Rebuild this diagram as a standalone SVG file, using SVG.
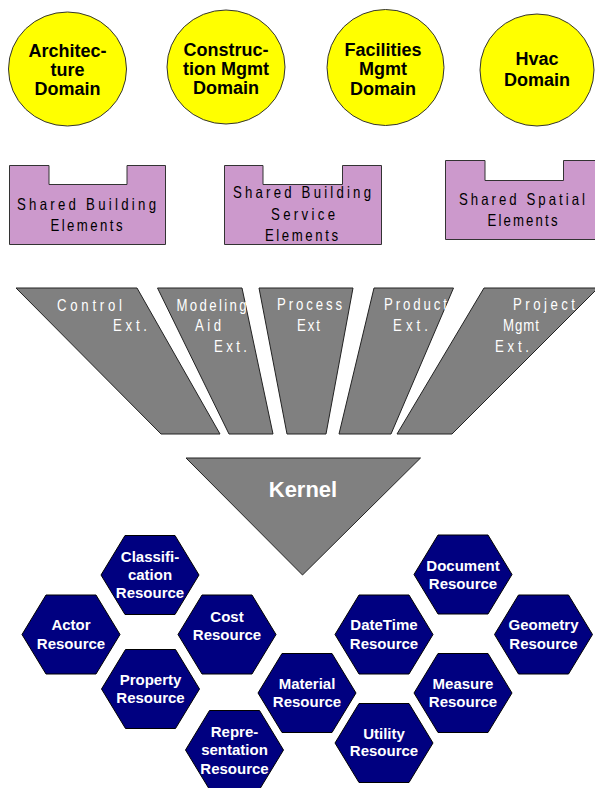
<svg xmlns="http://www.w3.org/2000/svg" width="595" height="788" viewBox="0 0 595 788">
<style>
.dom{fill:#FFFF00;stroke:#333;stroke-width:1}
.dt{font-family:"Liberation Sans",Arial,sans-serif;font-weight:bold;font-size:18px;fill:#000;text-anchor:middle}
.box{fill:#CC99CC;stroke:#333;stroke-width:1}
.bt{font-family:"Liberation Sans",Arial,sans-serif;font-size:16.5px;fill:#000;text-anchor:middle}
.ext{fill:#808080;stroke:#222;stroke-width:1}
.et{font-family:"Liberation Sans",Arial,sans-serif;font-size:16.5px;fill:#fff}
.hex{fill:#000080;stroke:#000;stroke-width:1}
.ht{font-family:"Liberation Sans",Arial,sans-serif;font-weight:bold;font-size:15px;fill:#fff;text-anchor:middle}
.kt{font-family:"Liberation Sans",Arial,sans-serif;font-weight:bold;font-size:22px;fill:#fff;text-anchor:middle}
</style>
<defs>
<polygon id="hx" points="-49,0 -25,-39.5 25,-39.5 49,0 25,39.5 -25,39.5"/>
</defs>
<rect width="595" height="788" fill="#fff"/>
<g id="connectors"/>
<g id="architecture-domain">
<ellipse class="dom" cx="67.5" cy="69" rx="59" ry="57"/>
<text class="dt" x="67.5" y="57">Architec-</text>
<text class="dt" x="67.5" y="76">ture</text>
<text class="dt" x="67.5" y="95">Domain</text>
</g>
<g id="construction-mgmt-domain">
<ellipse class="dom" cx="226" cy="67" rx="59" ry="57"/>
<text class="dt" x="226" y="56">Construc-</text>
<text class="dt" x="226" y="75">tion Mgmt</text>
<text class="dt" x="226" y="94">Domain</text>
</g>
<g id="facilities-mgmt-domain">
<ellipse class="dom" cx="385.5" cy="67.5" rx="58.5" ry="58"/>
<text class="dt" x="383" y="56">Facilities</text>
<text class="dt" x="383" y="75">Mgmt</text>
<text class="dt" x="383" y="95">Domain</text>
</g>
<g id="hvac-domain">
<ellipse class="dom" cx="537" cy="70" rx="57" ry="56"/>
<text class="dt" x="537" y="65">Hvac</text>
<text class="dt" x="537" y="86">Domain</text>
</g>
<g id="shared-building-elements">
<polygon class="box" points="9.5,165.5 49,165.5 49,184.5 127,184.5 127,165.5 165.5,165.5 165.5,244.5 9.5,244.5"/>
<g transform="scale(0.8,1)">
<text class="bt" x="108.125" y="210" textLength="173.75" lengthAdjust="spacing">Shared Building</text>
<text class="bt" x="108.125" y="231" textLength="90" lengthAdjust="spacing">Elements</text>
</g>
</g>
<g id="shared-building-service-elements">
<polygon class="box" points="224.5,165.5 263,165.5 263,184.5 342.5,184.5 342.5,165.5 381.5,165.5 381.5,244.5 224.5,244.5"/>
<g transform="scale(0.8,1)">
<text class="bt" x="377.5" y="198" textLength="172.5" lengthAdjust="spacing">Shared Building</text>
<text class="bt" x="378.75" y="220" textLength="80" lengthAdjust="spacing">Service</text>
<text class="bt" x="376.875" y="241.5" textLength="91.25" lengthAdjust="spacing">Elements</text>
</g>
</g>
<g id="shared-spatial-elements">
<polygon class="box" points="445.5,160.5 485,160.5 485,180.5 563.5,180.5 563.5,160.5 596,160.5 596,239.5 445.5,239.5"/>
<g transform="scale(0.8,1)">
<text class="bt" x="652.5" y="205" textLength="157.5" lengthAdjust="spacing">Shared Spatial</text>
<text class="bt" x="653.125" y="226" textLength="87.5" lengthAdjust="spacing">Elements</text>
</g>
</g>
<g id="control-ext">
<polygon class="ext" points="16,288 137,288 220,434 161,434"/>
<g transform="scale(0.8,1)">
<text class="et" x="71.25" y="311" textLength="81.25" lengthAdjust="spacing">Control</text>
<text class="et" x="141.25" y="331" textLength="42.5" lengthAdjust="spacing">Ext.</text>
</g>
</g>
<g id="modeling-aid-ext">
<polygon class="ext" points="157.5,288 242,288 273,434 229,434"/>
<g transform="scale(0.8,1)">
<text class="et" x="220.625" y="311" textLength="87.5" lengthAdjust="spacing">Modeling</text>
<text class="et" x="243.75" y="331" textLength="32.5" lengthAdjust="spacing">Aid</text>
<text class="et" x="267.5" y="352" textLength="41.25" lengthAdjust="spacing">Ext.</text>
</g>
</g>
<g id="process-ext">
<polygon class="ext" points="259,288 353,288 326,434 287,434"/>
<g transform="scale(0.8,1)">
<text class="et" x="346.25" y="310" textLength="81.25" lengthAdjust="spacing">Process</text>
<text class="et" x="371.25" y="331" textLength="28.75" lengthAdjust="spacing">Ext</text>
</g>
</g>
<g id="product-ext">
<polygon class="ext" points="374,288 453.5,288 391,434 339,434"/>
<g transform="scale(0.8,1)">
<text class="et" x="480" y="310" textLength="78.75" lengthAdjust="spacing">Product</text>
<text class="et" x="491.25" y="331" textLength="43.75" lengthAdjust="spacing">Ext.</text>
</g>
</g>
<g id="project-mgmt-ext">
<polygon class="ext" points="484,288 598,288 452,434 397,434"/>
<g transform="scale(0.8,1)">
<text class="et" x="641.25" y="310" textLength="77.5" lengthAdjust="spacing">Project</text>
<text class="et" x="628.75" y="331" textLength="45" lengthAdjust="spacing">Mgmt</text>
<text class="et" x="618.75" y="352" textLength="42.5" lengthAdjust="spacing">Ext.</text>
</g>
</g>
<g id="kernel">
<polygon class="ext" points="186,458 420.5,458 302.5,575"/>
<text class="kt" x="303" y="497">Kernel</text>
</g>
<g id="classification-resource">
<use href="#hx" class="hex" x="150" y="575"/>
<text class="ht" x="150" y="562">Classifi-</text>
<text class="ht" x="150" y="580">cation</text>
<text class="ht" x="150" y="598">Resource</text>
</g>
<g id="actor-resource">
<use href="#hx" class="hex" x="71" y="634.5"/>
<text class="ht" x="71" y="630">Actor</text>
<text class="ht" x="71" y="648.5">Resource</text>
</g>
<g id="cost-resource">
<use href="#hx" class="hex" x="227" y="634.5"/>
<text class="ht" x="227" y="621.5">Cost</text>
<text class="ht" x="227" y="639.5">Resource</text>
</g>
<g id="property-resource">
<use href="#hx" class="hex" x="150.5" y="689"/>
<text class="ht" x="150.5" y="685">Property</text>
<text class="ht" x="150.5" y="702.5">Resource</text>
</g>
<g id="material-resource">
<use href="#hx" class="hex" x="307" y="693"/>
<text class="ht" x="307" y="688.5">Material</text>
<text class="ht" x="307" y="706.5">Resource</text>
</g>
<g id="representation-resource">
<use href="#hx" class="hex" x="234.5" y="750"/>
<text class="ht" x="234.5" y="737">Repre-</text>
<text class="ht" x="234.5" y="755">sentation</text>
<text class="ht" x="234.5" y="774">Resource</text>
</g>
<g id="datetime-resource">
<use href="#hx" class="hex" x="384" y="634.5"/>
<text class="ht" x="384" y="630">DateTime</text>
<text class="ht" x="384" y="648.5">Resource</text>
</g>
<g id="document-resource">
<use href="#hx" class="hex" x="463" y="574.5"/>
<text class="ht" x="463" y="570.5">Document</text>
<text class="ht" x="463" y="588.5">Resource</text>
</g>
<g id="geometry-resource">
<use href="#hx" class="hex" x="543.5" y="634.5"/>
<text class="ht" x="543.5" y="630">Geometry</text>
<text class="ht" x="543.5" y="648.5">Resource</text>
</g>
<g id="measure-resource">
<use href="#hx" class="hex" x="463" y="693"/>
<text class="ht" x="463" y="688.5">Measure</text>
<text class="ht" x="463" y="706.5">Resource</text>
</g>
<g id="utility-resource">
<use href="#hx" class="hex" x="384" y="743"/>
<text class="ht" x="384" y="738.5">Utility</text>
<text class="ht" x="384" y="756">Resource</text>
</g>
</svg>
